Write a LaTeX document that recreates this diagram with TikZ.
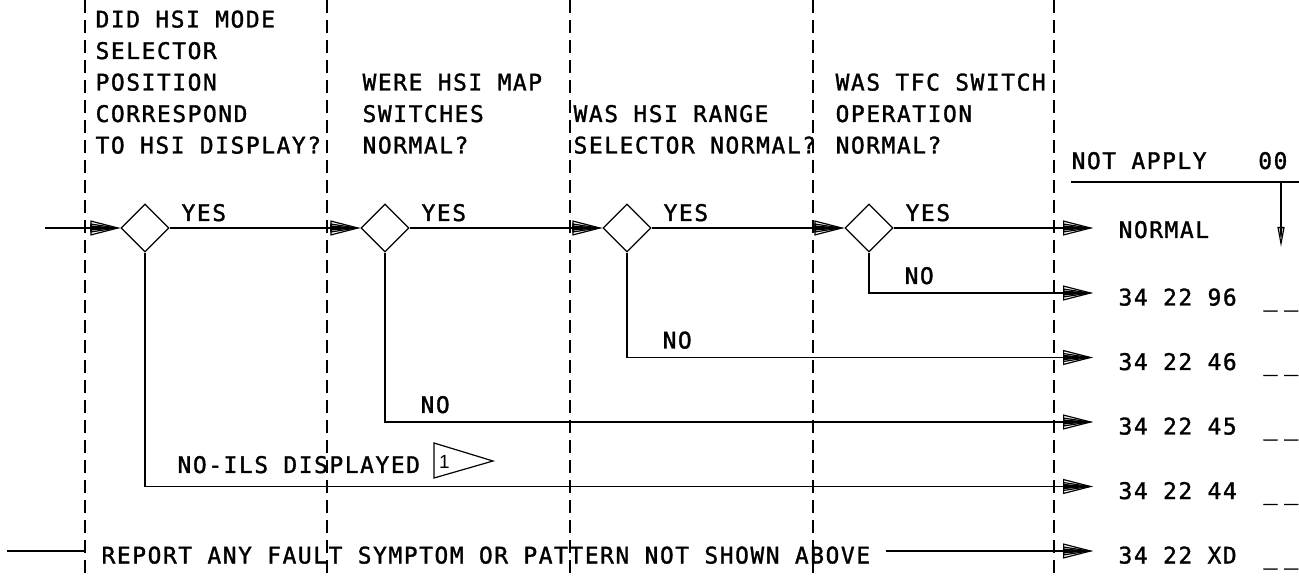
\documentclass[tikz,border=0pt]{standalone}
\usepackage{fontspec}
\usetikzlibrary{positioning, arrows.meta, shapes.geometric}
\newfontfamily\chartfont[LetterSpace=6.8, FakeBold=1.4]{DejaVu Sans Mono}
\newfontfamily\flagfont{Liberation Sans}

\tikzset{
  fan/.tip={Triangle[open, length=15pt, width=7.5pt, sep=-15pt] Triangle[open, length=15pt, width=4.5pt, sep=-15pt] Triangle[length=15pt, width=2.5pt]},
  smallfan/.tip={Triangle[open, length=10pt, width=3.5pt, sep=-10pt] Triangle[length=10pt, width=1.2pt]}
}

\begin{document}
\begin{tikzpicture}[
  x=0.5pt, y=-0.5pt,
  line width=0.6pt,
  every node/.style={font=\chartfont\fontsize{11.45}{15.85}\selectfont},
  decision/.style={diamond, draw, minimum size=24pt, inner sep=0pt},
  hdr/.style={anchor=base west, inner sep=0pt},
  result/.style={anchor=west, inner xsep=12.5pt, inner ysep=0pt, text height=12.5pt, text depth=0pt},
  column/.style={dash pattern=on 6.5pt off 3.5pt},
  flow/.style={-fan}
]
  \useasboundingbox (0,0) rectangle (1299,576);

  % column separators
  \foreach \x in {85,327,570,813,1054}
    \draw[column] (\x,0) -- (\x,576);

  % questions
  \foreach \txt [count=\i] in {DID HSI MODE, SELECTOR, POSITION, CORRESPOND, TO HSI DISPLAY?}
    \node[hdr] (qa\i) at (95, {27.5+(\i-1)*31.5}) {\txt};
  \foreach \txt [count=\i from 3] in {WERE HSI MAP, SWITCHES, NORMAL?}
    \node[hdr] (qb\i) at (362, {27.5+(\i-1)*31.5}) {\txt};
  \foreach \txt [count=\i from 4] in {WAS HSI RANGE, SELECTOR NORMAL?}
    \node[hdr] (qc\i) at (573, {27.5+(\i-1)*31.5}) {\txt};
  \foreach \txt [count=\i from 3] in {WAS TFC SWITCH, OPERATION, NORMAL?}
    \node[hdr] (qd\i) at (835, {27.5+(\i-1)*31.5}) {\txt};

  % decisions
  \node[decision] (d1) at (145,228) {};
  \node[decision] (d2) at (385,228) {};
  \node[decision] (d3) at (627,228) {};
  \node[decision] (d4) at (869,228) {};
  \foreach \i in {1,...,4}
    \node[hdr] (yes\i) at ([xshift=18pt, yshift=3.5pt]d\i.center) {YES};

  % results
  \node[hdr] (na) at (1071,169) {NOT APPLY};
  \node[hdr, anchor=base east] (na0) at (1288,169) {00};
  \coordinate (bar0) at (1071,182);
  \coordinate (bar1) at (1299,182);
  \coordinate (down0) at (1281,182);
  \coordinate (down1) at (1281,247);
  \draw (bar0) -- (bar1);
  \draw[-smallfan] (down0) -- (down1);

  \node[result, text height=10pt] (normal) at (1093,228) {NORMAL};
  \node[result] (r96) at (1093,293) {34 22 96};
  \node[result] (r46) at (1093,357.5) {34 22 46};
  \node[result] (r45) at (1093,422) {34 22 45};
  \node[result] (r44) at (1093,486.5) {34 22 44};
  \node[result] (rXD) at (1093,551) {34 22 XD};
  \foreach \r/\y in {96/306, 46/370.5, 45/435, 44/499.5, XD/564}
    \node[hdr] (b\r) at (1263,\y) {\_\hspace{3.5pt}\_};

  % connectors
  \coordinate (in) at (45,228);
  \draw[flow] (in) -- (d1.west);
  \draw[flow] (d1.east) -- (d2.west);
  \draw[flow] (d2.east) -- (d3.west);
  \draw[flow] (d3.east) -- (d4.west);
  \draw[flow] (d4.east) -- (normal.west);
  \draw[flow] (d4.south) |- (r96.west);
  \draw[flow] (d3.south) |- (r46.west);
  \draw[flow] (d2.south) |- (r45.west);
  \draw[flow] (d1.south) |- (r44.west);

  \node[hdr] (no4) at (904,284) {NO};
  \node[hdr] (no3) at (662,348.5) {NO};
  \node[hdr] (no2) at (420,413) {NO};
  \node[hdr] (no1) at (177,473) {NO-ILS DISPLAYED};

  % note flag
  \draw (434,443) -- (493,461) -- (434,478) -- cycle;
  \node[font=\flagfont\fontsize{9.5}{11}\selectfont, inner sep=0pt] (flag1) at (444.5,462) {1};

  % report line
  \coordinate (rep) at (7,551);
  \node[result, inner xsep=7.5pt] (report) at (86,551) {REPORT ANY FAULT SYMPTOM OR PATTERN NOT SHOWN ABOVE};
  \draw (rep) -- (report.west);
  \draw[flow] (report.east) -- (rXD.west);
\end{tikzpicture}
\end{document}
